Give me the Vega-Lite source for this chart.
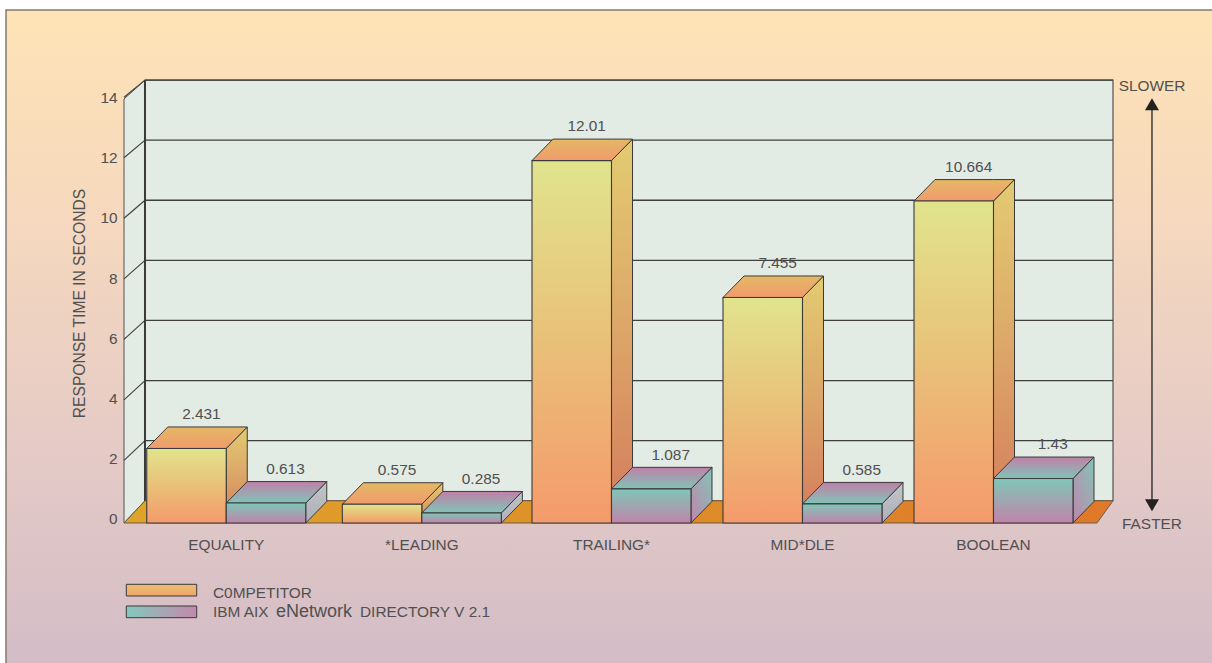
{
  "$schema": "https://vega.github.io/schema/vega-lite/v6.json",
  "width": 1212,
  "height": 663,
  "autosize": "none",
  "padding": 0,
  "background": "white",
  "config": {"view": {"stroke": null}, "text": {"font": "Liberation Sans", "fontSize": 15.4, "fill": "#505050"}},
  "datasets": {
    "bars": [
      {"category": "EQUALITY", "series": "C0MPETITOR", "value": 2.431},
      {"category": "EQUALITY", "series": "IBM", "value": 0.613},
      {"category": "*LEADING", "series": "C0MPETITOR", "value": 0.575},
      {"category": "*LEADING", "series": "IBM", "value": 0.285},
      {"category": "TRAILING*", "series": "C0MPETITOR", "value": 12.01},
      {"category": "TRAILING*", "series": "IBM", "value": 1.087},
      {"category": "MID*DLE", "series": "C0MPETITOR", "value": 7.455},
      {"category": "MID*DLE", "series": "IBM", "value": 0.585},
      {"category": "BOOLEAN", "series": "C0MPETITOR", "value": 10.664},
      {"category": "BOOLEAN", "series": "IBM", "value": 1.43}
    ],
    "levels": [{"k": 0}, {"k": 2}, {"k": 4}, {"k": 6}, {"k": 8}, {"k": 10}, {"k": 12}, {"k": 14}],
    "one": [{}]
  },
  "data": {"name": "bars"},
  "transform": [
    {"calculate": "{'EQUALITY': -0.017, '*LEADING': 1.007, 'TRAILING*': 2, 'MID*DLE': 3, 'BOOLEAN': 4}[datum.category]", "as": "slot"},
    {"calculate": "datum.slot + (datum.series === 'IBM' ? 0.4162 : 0)", "as": "x0"}
  ],
  "encoding": {
    "x": {"field": "px", "type": "quantitative", "axis": null, "scale": {"domain": [-0.78534, 5.56021], "nice": false, "zero": false}},
    "y": {
      "field": "py",
      "type": "quantitative",
      "stack": null,
      "title": "RESPONSE TIME IN SECONDS",
      "scale": {"domain": [-4.709, 17.354], "nice": false, "zero": false},
      "axis": {
        "zindex": 1,
        "offset": -124,
        "values": [0, 2, 4, 6, 8, 10, 12, 14],
        "grid": false,
        "domain": false,
        "ticks": false,
        "labelPadding": 7,
        "labelOffset": -3,
        "labelFont": "Liberation Sans",
        "labelFontSize": 15.4,
        "labelColor": "#505050",
        "titleFont": "Liberation Sans",
        "titleFontSize": 15.6,
        "titleFontWeight": "normal",
        "titleColor": "#505050",
        "titleX": -45,
        "titleY": 303,
        "titleAngle": -90,
        "titleAlign": "center",
        "titleBaseline": "middle"
      }
    }
  },
  "layer": [
    {
      "data": {"name": "one"},
      "transform": [
        {"calculate": "-0.7539", "as": "px"}, {"calculate": "5.7", "as": "px2"},
        {"calculate": "17.02", "as": "py"}, {"calculate": "-5", "as": "py2"}
      ],
      "mark": {
        "type": "rect",
        "stroke": "#857a6e",
        "strokeWidth": 1.5,
        "fill": {"gradient": "linear", "x1": 0, "y1": 0, "x2": 0, "y2": 1, "stops": [
          {"offset": 0, "color": "#fee3b6"},
          {"offset": 0.3, "color": "#f6d9bd"},
          {"offset": 0.65, "color": "#e6cbc6"},
          {"offset": 1, "color": "#d2bcc6"}
        ]}
      },
      "encoding": {"x2": {"field": "px2"}, "y2": {"field": "py2"}}
    },
    {
      "data": {"values": [
        {"px": -0.1361, "py": 14.06, "py2": -0.05},
        {"px": -0.0262, "py": 14.69, "py2": 0.69}
      ]},
      "mark": {"type": "area", "fill": "#e3ebe5", "stroke": "#55534f", "strokeWidth": 1},
      "encoding": {"y2": {"field": "py2"}}
    },
    {
      "data": {"name": "one"},
      "transform": [
        {"calculate": "-0.0262", "as": "px"}, {"calculate": "5.0419", "as": "px2"},
        {"calculate": "14.69", "as": "py"}, {"calculate": "0.69", "as": "py2"}
      ],
      "mark": {"type": "rect", "fill": "#e3ebe5", "stroke": "#55534f", "strokeWidth": 1.2},
      "encoding": {"x2": {"field": "px2"}, "y2": {"field": "py2"}}
    },
    {
      "data": {"name": "levels"},
      "transform": [
        {"filter": "datum.k > 0"},
        {"calculate": "-0.0262", "as": "px"}, {"calculate": "5.0419", "as": "px2"},
        {"calculate": "datum.k + 0.69", "as": "py"}
      ],
      "mark": {"type": "rule", "stroke": "#3f3f3f", "strokeWidth": 1.3},
      "encoding": {"x2": {"field": "px2"}}
    },
    {
      "data": {"name": "levels"},
      "transform": [
        {"filter": "datum.k > 0"},
        {"calculate": "-0.1361", "as": "px"}, {"calculate": "-0.0262", "as": "px2"},
        {"calculate": "1.0073 * datum.k + 0.017", "as": "py"}, {"calculate": "datum.k + 0.69", "as": "py2"}
      ],
      "mark": {"type": "rule", "stroke": "#3f3f3f", "strokeWidth": 1.1},
      "encoding": {"x2": {"field": "px2"}, "y2": {"field": "py2"}}
    },
    {
      "data": {"name": "one"},
      "transform": [
        {"calculate": "-0.0262", "as": "px"}, {"calculate": "14.69", "as": "py"}, {"calculate": "-0.05", "as": "py2"}
      ],
      "mark": {"type": "rule", "stroke": "#3a3a3a", "strokeWidth": 2},
      "encoding": {"y2": {"field": "py2"}}
    },
    {
      "data": {"values": [
        {"px": -0.1361, "py": -0.05, "py2": -0.05},
        {"px": -0.0262, "py": 0.69, "py2": -0.05},
        {"px": 4.9581, "py": 0.69, "py2": -0.05},
        {"px": 5.0419, "py": 0.69, "py2": 0.69}
      ]},
      "mark": {
        "type": "area",
        "stroke": "#6a5a45",
        "strokeWidth": 1,
        "fill": {"gradient": "linear", "x1": 0, "y1": 0, "x2": 1, "y2": 0, "stops": [
          {"offset": 0, "color": "#e0a42a"},
          {"offset": 0.5, "color": "#dd8f28"},
          {"offset": 1, "color": "#e0782a"}
        ]}
      },
      "encoding": {"y2": {"field": "py2"}}
    },

    {
      "transform": [
        {"filter": "datum.series !== 'IBM'"},
        {"calculate": "[datum.x0 + 0.4162, datum.x0 + 0.4162 + 0.11]", "as": "px"},
        {"calculate": "[datum.value, datum.value + 0.715]", "as": "py"},
        {"calculate": "[-0.05, 0.665]", "as": "py2"},
        {"flatten": ["px", "py", "py2"]}
      ],
      "mark": {
        "type": "area", "stroke": "#3a3a3a", "strokeWidth": 1,
        "fill": {"gradient": "linear", "x1": 0, "y1": 0, "x2": 0, "y2": 1, "stops": [
          {"offset": 0, "color": "#e3cb72"},
          {"offset": 0.5, "color": "#dca668"},
          {"offset": 1, "color": "#d57a5c"}
        ]}
      },
      "encoding": {"y2": {"field": "py2"}, "detail": {"field": "category"}}
    },
    {
      "transform": [
        {"filter": "datum.series !== 'IBM'"},
        {"calculate": "[datum.x0, datum.x0 + 0.11, datum.x0 + 0.4162, datum.x0 + 0.5262]", "as": "px"},
        {"calculate": "[datum.value, datum.value + 0.715, datum.value + 0.715, datum.value + 0.715]", "as": "py"},
        {"calculate": "[datum.value, datum.value, datum.value, datum.value + 0.715]", "as": "py2"},
        {"flatten": ["px", "py", "py2"]}
      ],
      "mark": {
        "type": "area", "stroke": "#3a3a3a", "strokeWidth": 1,
        "fill": {"gradient": "linear", "x1": 0, "y1": 0, "x2": 0, "y2": 1, "stops": [
          {"offset": 0, "color": "#e4b866"},
          {"offset": 1, "color": "#f19b6b"}
        ]}
      },
      "encoding": {"y2": {"field": "py2"}, "detail": {"field": "category"}}
    },
    {
      "transform": [
        {"filter": "datum.series !== 'IBM'"},
        {"calculate": "datum.x0", "as": "px"}, {"calculate": "datum.x0 + 0.4162", "as": "px2"},
        {"calculate": "datum.value", "as": "py"}, {"calculate": "-0.05", "as": "py2"}
      ],
      "mark": {
        "type": "rect", "stroke": "#3a3a3a", "strokeWidth": 1.1,
        "fill": {"gradient": "linear", "x1": 0, "y1": 0, "x2": 0, "y2": 1, "stops": [
          {"offset": 0, "color": "#e1e48d"},
          {"offset": 0.45, "color": "#e8c47a"},
          {"offset": 1, "color": "#f59a6b"}
        ]}
      },
      "encoding": {"x2": {"field": "px2"}, "y2": {"field": "py2"}}
    },

    {
      "transform": [
        {"filter": "datum.series === 'IBM' && datum.value >= 1"},
        {"calculate": "[datum.x0 + 0.4162, datum.x0 + 0.4162 + 0.11]", "as": "px"},
        {"calculate": "[datum.value, datum.value + 0.715]", "as": "py"},
        {"calculate": "[-0.05, 0.665]", "as": "py2"},
        {"flatten": ["px", "py", "py2"]}
      ],
      "mark": {
        "type": "area", "stroke": "#3a3a3a", "strokeWidth": 1,
        "fill": {"gradient": "linear", "x1": 0, "y1": 1, "x2": 1, "y2": 0, "stops": [
          {"offset": 0, "color": "#bf85ab"},
          {"offset": 1, "color": "#84c4b8"}
        ]}
      },
      "encoding": {"y2": {"field": "py2"}, "detail": {"field": "category"}}
    },
    {
      "transform": [
        {"filter": "datum.series === 'IBM' && datum.value < 1"},
        {"calculate": "[datum.x0 + 0.4162, datum.x0 + 0.4162 + 0.11]", "as": "px"},
        {"calculate": "[datum.value, datum.value + 0.715]", "as": "py"},
        {"calculate": "[-0.05, 0.665]", "as": "py2"},
        {"flatten": ["px", "py", "py2"]}
      ],
      "mark": {
        "type": "area", "stroke": "#3a3a3a", "strokeWidth": 1,
        "fill": {"gradient": "linear", "x1": 0, "y1": 0, "x2": 0, "y2": 1, "stops": [
          {"offset": 0, "color": "#c0c6c6"},
          {"offset": 1, "color": "#aeaebc"}
        ]}
      },
      "encoding": {"y2": {"field": "py2"}, "detail": {"field": "category"}}
    },
    {
      "transform": [
        {"filter": "datum.series === 'IBM'"},
        {"calculate": "[datum.x0, datum.x0 + 0.11, datum.x0 + 0.4162, datum.x0 + 0.5262]", "as": "px"},
        {"calculate": "[datum.value, datum.value + 0.715, datum.value + 0.715, datum.value + 0.715]", "as": "py"},
        {"calculate": "[datum.value, datum.value, datum.value, datum.value + 0.715]", "as": "py2"},
        {"flatten": ["px", "py", "py2"]}
      ],
      "mark": {
        "type": "area", "stroke": "#3a3a3a", "strokeWidth": 1,
        "fill": {"gradient": "linear", "x1": 0, "y1": 0, "x2": 0, "y2": 1, "stops": [
          {"offset": 0, "color": "#c080a8"},
          {"offset": 1, "color": "#80c4b8"}
        ]}
      },
      "encoding": {"y2": {"field": "py2"}, "detail": {"field": "category"}}
    },
    {
      "transform": [
        {"filter": "datum.series === 'IBM'"},
        {"calculate": "datum.x0", "as": "px"}, {"calculate": "datum.x0 + 0.4162", "as": "px2"},
        {"calculate": "datum.value", "as": "py"}, {"calculate": "-0.05", "as": "py2"}
      ],
      "mark": {
        "type": "rect", "stroke": "#3a3a3a", "strokeWidth": 1.1,
        "fill": {"gradient": "linear", "x1": 0, "y1": 0, "x2": 0, "y2": 1, "stops": [
          {"offset": 0, "color": "#80c6b8"},
          {"offset": 1, "color": "#c084aa"}
        ]}
      },
      "encoding": {"x2": {"field": "px2"}, "y2": {"field": "py2"}}
    },

    {
      "transform": [
        {"calculate": "datum.x0 + 0.2081 + (datum.series === 'IBM' ? 0.102 : 0.078)", "as": "px"},
        {"calculate": "datum.value + 0.715 + 0.42", "as": "py"}
      ],
      "mark": {"type": "text", "align": "center", "baseline": "middle"},
      "encoding": {"text": {"field": "value", "type": "nominal"}}
    },
    {
      "transform": [
        {"filter": "datum.series === 'IBM'"},
        {"calculate": "datum.x0", "as": "px"},
        {"calculate": "-0.782", "as": "py"}
      ],
      "mark": {"type": "text", "align": "center", "baseline": "middle"},
      "encoding": {"text": {"field": "category", "type": "nominal"}}
    },

    {
      "data": {"values": [{"label": "SLOWER", "py": 14.476}, {"label": "FASTER", "py": -0.093}]},
      "transform": [{"calculate": "5.246", "as": "px"}],
      "mark": {"type": "text", "align": "center", "baseline": "middle"},
      "encoding": {"text": {"field": "label", "type": "nominal"}}
    },
    {
      "data": {"name": "one"},
      "transform": [
        {"calculate": "5.246", "as": "px"}, {"calculate": "13.88", "as": "py"}, {"calculate": "0.54", "as": "py2"}
      ],
      "mark": {"type": "rule", "stroke": "#222222", "strokeWidth": 1.3},
      "encoding": {"y2": {"field": "py2"}}
    },
    {
      "data": {"values": [{"dir": "triangle-up", "py": 13.883}, {"dir": "triangle-down", "py": 0.539}]},
      "transform": [{"calculate": "5.246", "as": "px"}],
      "mark": {"type": "point", "filled": true, "fill": "#222222", "stroke": null, "opacity": 1, "size": 196},
      "encoding": {"shape": {"field": "dir", "type": "nominal", "scale": null, "legend": null}}
    },

    {
      "data": {"name": "one"},
      "transform": [
        {"calculate": "-0.124", "as": "px"}, {"calculate": "0.2445", "as": "px2"},
        {"calculate": "-2.09", "as": "py"}, {"calculate": "-2.479", "as": "py2"}
      ],
      "mark": {
        "type": "rect", "stroke": "#3a3a3a", "strokeWidth": 1,
        "fill": {"gradient": "linear", "x1": 0, "y1": 0, "x2": 0, "y2": 1, "stops": [
          {"offset": 0, "color": "#ecbd74"},
          {"offset": 1, "color": "#f0a66a"}
        ]}
      },
      "encoding": {"x2": {"field": "px2"}, "y2": {"field": "py2"}}
    },
    {
      "data": {"name": "one"},
      "transform": [
        {"calculate": "-0.124", "as": "px"}, {"calculate": "0.2445", "as": "px2"},
        {"calculate": "-2.812", "as": "py"}, {"calculate": "-3.201", "as": "py2"}
      ],
      "mark": {
        "type": "rect", "stroke": "#3a3a3a", "strokeWidth": 1,
        "fill": {"gradient": "linear", "x1": 0, "y1": 0, "x2": 1, "y2": 0, "stops": [
          {"offset": 0, "color": "#84c8bc"},
          {"offset": 1, "color": "#c488ac"}
        ]}
      },
      "encoding": {"x2": {"field": "px2"}, "y2": {"field": "py2"}}
    },
    {
      "data": {"values": [{"label": "C0MPETITOR", "px": 0.3298, "py": -2.546}, {"label": "IBM AIX", "px": 0.3298, "py": -3.178}, {"label": "DIRECTORY V 2.1", "px": 1.0995, "py": -3.178}]},
      "mark": {"type": "text", "align": "left", "baseline": "alphabetic"},
      "encoding": {"text": {"field": "label", "type": "nominal"}}
    },
    {
      "data": {"values": [{"label": "eNetwork", "px": 0.6597, "py": -3.178}]},
      "mark": {"type": "text", "align": "left", "baseline": "alphabetic", "fontSize": 18},
      "encoding": {"text": {"field": "label", "type": "nominal"}}
    }
  ]
}
